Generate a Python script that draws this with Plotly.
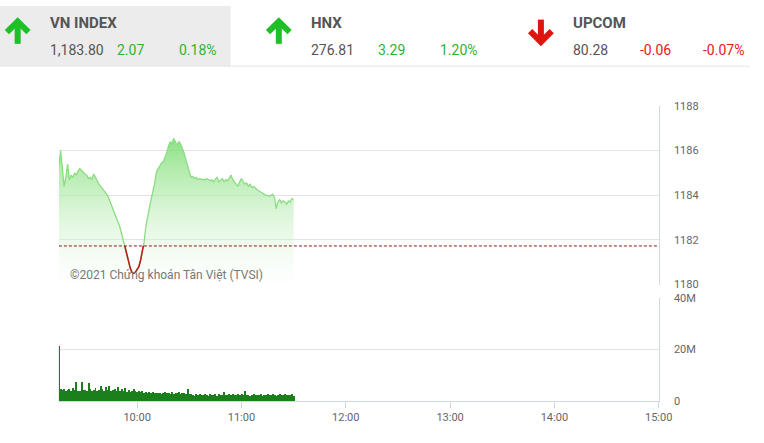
import plotly.graph_objects as go
from datetime import datetime, timedelta

W, H = 764, 443

# ---------------- data ----------------
start_time = "2021-01-01 09:15"
price = [
    1185.3, 1186.0, 1185.2, 1184.4, 1184.8, 1185.4, 1184.7, 1184.9, 1184.8, 1185.0,
    1184.9, 1185.1, 1185.2, 1185.1, 1185.0, 1184.95, 1184.9, 1184.75, 1184.8, 1184.7,
    1184.95, 1184.8, 1184.6, 1184.5, 1184.4, 1184.3, 1184.2, 1184.1, 1184.0, 1183.8,
    1183.6, 1183.4, 1183.2, 1183.0, 1182.85, 1182.6, 1182.3, 1182.0, 1181.7, 1181.3,
    1181.0, 1180.75, 1180.55, 1180.5, 1180.55, 1180.65, 1180.8, 1181.1, 1181.5, 1181.9,
    1182.6, 1183.1, 1183.4, 1183.8, 1184.1, 1184.5, 1185.0, 1185.2, 1185.3, 1185.45,
    1185.5, 1185.7, 1185.9, 1186.2, 1186.4, 1186.3, 1186.55, 1186.4, 1186.25, 1186.4,
    1186.3, 1186.1, 1185.9, 1185.6, 1185.3, 1185.0, 1184.8, 1184.85, 1184.75, 1184.8,
    1184.7, 1184.75, 1184.7, 1184.72, 1184.68, 1184.75, 1184.7, 1184.65, 1184.7, 1184.6,
    1184.72, 1184.8, 1184.6, 1184.7, 1184.75, 1184.6, 1184.7, 1184.65, 1184.8, 1184.9,
    1184.7, 1184.6, 1184.5, 1184.4, 1184.6, 1184.75, 1184.6, 1184.5, 1184.55, 1184.4,
    1184.5, 1184.35, 1184.4, 1184.3, 1184.25, 1184.2, 1184.15, 1184.1, 1184.05, 1184.0,
    1184.0, 1183.95, 1184.0, 1184.05, 1183.9, 1183.4, 1183.7, 1183.8, 1183.65, 1183.75,
    1183.7, 1183.6, 1183.75, 1183.7, 1183.85, 1183.8,
]
volume_m = [
    21.5,
    4.5, 4.2, 4.8, 4.0, 4.3, 4.6, 3.9, 5.2, 4.1, 7.5, 4.0, 3.8, 7.3, 4.2, 4.4, 4.0, 7.0,
    4.6, 3.9, 4.3, 5.0, 3.8, 4.2, 5.8, 4.5,
    4.0, 5.5, 4.2, 5.6, 3.9, 4.1, 4.8, 4.0, 5.3, 3.9, 4.5, 3.8, 5.0, 3.6, 4.4, 3.5, 3.7,
    4.6, 3.9, 3.5,
    3.8, 3.5, 4.0, 3.2, 3.4, 3.1, 3.3, 3.0, 3.6, 2.9, 3.2, 3.0, 3.1, 2.8, 3.0, 3.3, 2.9,
    3.1, 2.7, 3.4, 2.8, 3.0, 2.9, 3.5, 2.8, 3.2, 3.0, 2.7, 4.6, 2.8,
    2.6, 2.2, 2.0, 2.5, 2.3, 2.6, 2.1, 2.4, 2.7, 2.2, 2.0, 2.5, 2.3, 2.1, 2.6, 2.0, 2.8,
    2.2, 2.4, 3.3, 2.3, 2.1, 2.5, 2.2, 2.6, 2.4, 2.3, 2.5, 2.1, 2.7,
    2.4, 3.7, 2.3, 2.2, 2.0, 2.4, 2.5, 2.1, 2.3, 2.2, 2.6, 2.0, 2.4, 2.2, 2.7, 2.3, 2.1,
    2.5, 2.2, 2.0, 2.4, 2.6, 2.2, 2.1, 2.5, 2.3, 2.4, 2.2, 2.6, 2.0,
]
vn_close, vn_change, vn_pct = "1,183.80", "2.07", "0.18%"
hnx_close, hnx_change, hnx_pct = "276.81", "3.29", "1.20%"
up_close, up_change, up_pct = "80.28", "-0.06", "-0.07%"
reference = 1183.80 - 2.07
price_ticks = [1180, 1182, 1184, 1186, 1188]
vol_ticks = [0, 20, 40]
vol_tick_labels = ["0", "20M", "40M"]
time_ticks = ["10:00", "11:00", "12:00", "13:00", "14:00", "15:00"]
watermark = "©2021 Chứng khoán Tân Việt (TVSI)"

# ---------------- derived ----------------
t0 = datetime.strptime(start_time, "%Y-%m-%d %H:%M")
times = [t0 + timedelta(minutes=i) for i in range(len(price))]
tick_vals = [datetime.strptime("2021-01-01 " + s, "%Y-%m-%d %H:%M") for s in time_ticks]
x_end = datetime.strptime("2021-01-01 15:00", "%Y-%m-%d %H:%M")

# red segment below reference (with interpolated crossing points)
red_x, red_y = [], []
for i in range(len(price)):
    if price[i] < reference:
        if i > 0 and price[i - 1] >= reference and not red_x:
            f = (price[i - 1] - reference) / (price[i - 1] - price[i])
            red_x.append(times[i - 1] + (times[i] - times[i - 1]) * f)
            red_y.append(reference)
        red_x.append(times[i])
        red_y.append(price[i])
        if i + 1 < len(price) and price[i + 1] >= reference:
            f = (reference - price[i]) / (price[i + 1] - price[i])
            red_x.append(times[i] + (times[i + 1] - times[i]) * f)
            red_y.append(reference)


def px(x):
    return x / W


def py(y):
    return 1 - y / H


GREEN = "#2cb52c"
RED = "#e0201b"
TXT = "#555555"
FONT = "Roboto"

fig = go.Figure()

fig.add_trace(go.Scatter(
    x=times, y=price, mode="lines",
    line=dict(color="#8cdc84", width=1.3),
    fill="tozeroy",
    fillgradient=dict(type="vertical", start=1180.0, stop=1186.6,
                      colorscale=[[0, "rgba(255,255,255,0.2)"], [1, "rgba(120,220,110,0.85)"]]),
    xaxis="x", yaxis="y", hoverinfo="skip", showlegend=False,
))
fig.add_trace(go.Scatter(
    x=red_x, y=red_y, mode="lines", line=dict(color="#b8201a", width=1.6),
    xaxis="x", yaxis="y", hoverinfo="skip", showlegend=False,
))
fig.add_trace(go.Bar(
    x=times, y=volume_m, marker=dict(color="#1b7f1b", line=dict(width=0)),
    width=33000, xaxis="x2", yaxis="y2", hoverinfo="skip", showlegend=False,
))

xd = [px(60), px(671)]
axis_common = dict(showgrid=True, gridcolor="#e3e3e3", gridwidth=1, zeroline=False)

fig.update_layout(
    width=W, height=H, margin=dict(l=0, r=0, t=0, b=0),
    paper_bgcolor="white", plot_bgcolor="white",
    font=dict(family=FONT, color="#666666", size=11),
    bargap=0,
    xaxis=dict(domain=xd, range=[t0, x_end], type="date", showticklabels=False,
               showgrid=False, zeroline=False, anchor="y", matches="x2"),
    yaxis=dict(domain=[py(287), py(103)], range=[1180, 1188], side="right",
               tickvals=price_ticks, ticktext=[str(v) for v in price_ticks],
               showline=True, linecolor="#d0d8e0", linewidth=1,
               ticks="", ticklabelstandoff=12, anchor="x", **axis_common),
    xaxis2=dict(domain=xd, range=[t0, x_end], type="date", tickvals=tick_vals,
                ticktext=time_ticks, ticks="outside", ticklen=6, tickcolor="#d0d8e0",
                showline=True, linecolor="#d0d8e0", showgrid=False, zeroline=False,
                anchor="y2"),
    yaxis2=dict(domain=[py(407), py(301)], range=[0, 40], side="right",
                tickvals=vol_ticks, ticktext=vol_tick_labels,
                showline=True, linecolor="#d0d8e0", linewidth=1,
                ticks="", ticklabelstandoff=12, anchor="x2", **axis_common),
)

shapes = []
# header gray panel
shapes.append(dict(type="rect", xref="paper", yref="paper", x0=0, x1=px(235), y0=py(62), y1=1,
                   fillcolor="#ececec", line=dict(width=0), layer="below"))
shapes.append(dict(type="line", xref="paper", yref="paper", x0=0, x1=1, y0=py(62), y1=py(62),
                   line=dict(color="#e6e6e6", width=1)))
# reference dashed line
shapes.append(dict(type="line", xref="paper", yref="y", x0=xd[0], x1=xd[1], y0=reference, y1=reference,
                   line=dict(color="#8e1a14", width=1, dash="3px,2px")))


def arrow(cx, up, color):
    if up:
        head = f"M {px(cx-11)} {py(27)} L {px(cx)} {py(16)} L {px(cx+11)} {py(27)}"
        shaft = f"M {px(cx)} {py(17)} L {px(cx)} {py(39)}"
    else:
        head = f"M {px(cx-11)} {py(26)} L {px(cx)} {py(37)} L {px(cx+11)} {py(26)}"
        shaft = f"M {px(cx)} {py(14)} L {px(cx)} {py(36)}"
    return [dict(type="path", xref="paper", yref="paper", path=head,
                 line=dict(color=color, width=6)),
            dict(type="path", xref="paper", yref="paper", path=shaft,
                 line=dict(color=color, width=6))]


shapes += arrow(18, True, "#1fbf27")
shapes += arrow(284, True, "#1fbf27")
shapes += arrow(551, False, "#e0140e")
fig.update_layout(shapes=shapes)

ann = []


def text(x, y, s, color, size=14, bold=False, anchor="left"):
    ann.append(dict(xref="paper", yref="paper", x=px(x), y=py(y), text=f"<b>{s}</b>" if bold else s,
                    showarrow=False, xanchor=anchor, yanchor="middle",
                    font=dict(family=FONT, size=size, color=color)))


for nx, name, c, ch, pc, col in [
    (50, "VN INDEX", vn_close, vn_change, vn_pct, GREEN),
    (316, "HNX", hnx_close, hnx_change, hnx_pct, GREEN),
    (583, "UPCOM", up_close, up_change, up_pct, RED),
]:
    text(nx - 1, 17, name, TXT, size=15, bold=True)
    text(nx - 1, 45, c, TXT, size=14)
    text(nx + 67, 45, ch, col, size=14)
    text(nx + 173 if name != "UPCOM" else nx + 177, 45, pc, col, size=14, anchor="right")

text(69, 277, watermark, "#777777", size=12)
fig.update_layout(annotations=ann)

post = (
    "document.documentElement.style.margin='0';"
    "document.documentElement.style.overflow='hidden';"
    "document.body.style.margin='0';document.body.style.padding='0';"
    "document.body.style.overflow='hidden';"
    "var d=document.getElementById('{plot_id}');"
    "d.style.position='fixed';d.style.top='0px';d.style.left='0px';"
)
fig.write_html("out.html", config={"displayModeBar": False}, post_script=post)
